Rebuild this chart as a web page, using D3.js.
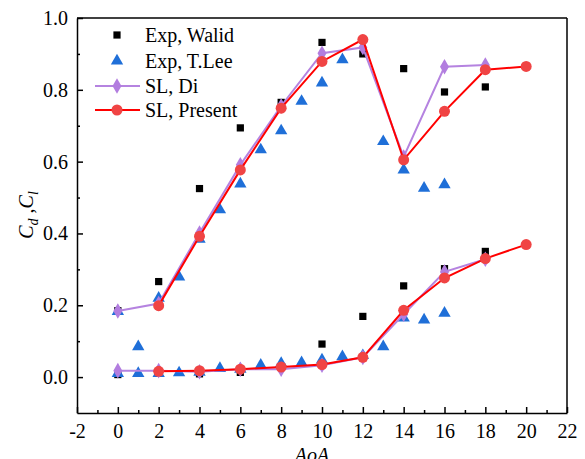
<!DOCTYPE html>
<meta charset="utf-8">
<style>
body { margin: 0; background: #fff; }
.axis path, .axis line { stroke: #000; stroke-width: 1.5px; }
.axis text { fill: #000; }
</style>
<svg width="585" height="459"></svg>
<script src="https://d3js.org/d3.v7.min.js"></script>
<script>

// lift (Cl) and drag (Cd) values
var walidLift = [[0, 0.185], [2, 0.266], [4, 0.525], [6, 0.694], [8, 0.765], [10, 0.932], [12, 0.90], [14, 0.859], [16, 0.794], [18, 0.808]];
var walidDrag = [[0, 0.007], [4, 0.009], [6, 0.013], [10, 0.092], [12, 0.169], [14, 0.254], [16, 0.302], [18, 0.35]];

var leeLift = [[0, 0.183], [1, 0.085], [2, 0.22], [3, 0.279], [4, 0.384], [5, 0.466], [6, 0.538], [7, 0.633], [8, 0.686], [9, 0.768], [10, 0.819], [11, 0.884], [13, 0.656], [14, 0.577], [15, 0.526], [16, 0.536]];
var leeDrag = [[0, 0.01], [1, 0.01], [2, 0.01], [3, 0.012], [4, 0.014], [5, 0.024], [6, 0.022], [7, 0.033], [8, 0.038], [9, 0.04], [10, 0.048], [11, 0.057], [12, 0.06], [13, 0.085], [14, 0.165], [15, 0.159], [16, 0.178]];

var diLift = [[0, 0.184], [2, 0.205], [4, 0.401], [6, 0.591], [8, 0.755], [10, 0.902], [12, 0.918], [14, 0.613], [16, 0.864], [18, 0.869]];
var diDrag = [[0, 0.018], [2, 0.018], [4, 0.015], [6, 0.022], [8, 0.022], [10, 0.033], [12, 0.055], [14, 0.175], [16, 0.293], [18, 0.328]];

var presentLift = [[2, 0.199], [4, 0.392], [6, 0.577], [8, 0.749], [10, 0.879], [12, 0.94], [14, 0.605], [16, 0.74], [18, 0.856], [20, 0.865]];
var presentDrag = [[2, 0.016], [4, 0.018], [6, 0.022], [8, 0.028], [10, 0.035], [12, 0.055], [14, 0.186], [16, 0.276], [18, 0.33], [20, 0.369]];

var xTicks = [-2, 0, 2, 4, 6, 8, 10, 12, 14, 16, 18, 20, 22];
var yTicks = [0, 0.2, 0.4, 0.6, 0.8, 1.0];

var legendNames = ["Exp, Walid", "Exp, T.Lee", "SL, Di", "SL, Present"];

var FONT = '"Liberation Serif"';

var svg = d3.select("svg"),
    margin = {top: 18, right: 18, bottom: 46, left: 77},
    width = +svg.attr("width") - margin.left - margin.right,
    height = +svg.attr("height") - margin.top - margin.bottom;

var x = d3.scaleLinear().domain([-2, 22]).range([0, width]);
var y = d3.scaleLinear().domain([-0.1, 1.0]).range([height, 0]);

var g = svg.append("g")
    .attr("transform", "translate(" + margin.left + "," + margin.top + ")");

// minor ticks
g.append("g")
    .attr("class", "axis")
    .attr("transform", "translate(0," + height + ")")
    .call(d3.axisBottom(x).tickValues(d3.range(-1, 22, 2)).tickSize(-3).tickFormat(""))
    .select(".domain").remove();
g.append("g")
    .attr("class", "axis")
    .call(d3.axisLeft(y).tickValues([0.1, 0.3, 0.5, 0.7, 0.9]).tickSize(-3).tickFormat(""))
    .select(".domain").remove();

// major axes
g.append("g")
    .attr("class", "axis")
    .attr("transform", "translate(0," + height + ")")
    .call(d3.axisBottom(x).tickValues(xTicks).tickSize(-6).tickSizeOuter(0).tickPadding(11)
      .tickFormat(function(d) { return String(d); }));
g.append("g")
    .attr("class", "axis")
    .call(d3.axisLeft(y).tickValues(yTicks).tickSize(-6).tickSizeOuter(0).tickPadding(9).tickFormat(d3.format(".1f")));

g.selectAll(".axis").attr("font-family", FONT).attr("font-size", 20);
g.selectAll(".axis text").attr("font-family", FONT);

// frame top / right
g.append("line").attr("x1", 0).attr("x2", width).attr("y1", 0).attr("y2", 0)
    .attr("stroke", "#000").attr("stroke-width", 1.5);
g.append("line").attr("x1", width).attr("x2", width).attr("y1", 0).attr("y2", height)
    .attr("stroke", "#000").attr("stroke-width", 1.5);

// axis titles
svg.append("text")
    .attr("x", 312).attr("y", 462)
    .attr("text-anchor", "middle")
    .attr("font-family", FONT).attr("font-size", 20).attr("font-style", "italic")
    .text("AoA");

var yl = svg.append("text")
    .attr("transform", "translate(33,215) rotate(-90)")
    .attr("text-anchor", "middle")
    .attr("font-family", FONT).attr("font-size", 20).attr("font-style", "italic");
yl.append("tspan").text("C");
yl.append("tspan").attr("dy", 5).attr("font-size", 14).text("d");
yl.append("tspan").attr("dy", -5).attr("font-style", "normal").text(" ,");
yl.append("tspan").text("C");
yl.append("tspan").attr("dy", 5).attr("font-size", 14).text("l");

var line = d3.line()
    .x(function(d) { return x(d[0]); })
    .y(function(d) { return y(d[1]); });

var colors = {walid: "#000000", lee: "#1f6fd8", di: "#b27ddf", diLine: "#b583e0", present: "#f04444", presentLine: "#ff0000"};

var sq = d3.symbol().type(d3.symbolSquare).size(52);
var tri = d3.symbol().type(d3.symbolTriangle).size(66);
var dia = d3.symbol().type(d3.symbolDiamond).size(70);

function points(data, sym, color, cls) {
  g.selectAll("." + cls)
    .data(data)
    .enter().append("path")
    .attr("class", cls)
    .attr("d", sym)
    .attr("fill", color)
    .attr("transform", function(d) { return "translate(" + x(d[0]) + "," + y(d[1]) + ")"; });
}

// experiments
points(walidLift, sq, colors.walid, "wl");
points(walidDrag, sq, colors.walid, "wd");
points(leeLift, tri, colors.lee, "ll");
points(leeDrag, tri, colors.lee, "ld");

// Di
[diLift, diDrag].forEach(function(s) {
  g.append("path").datum(s).attr("d", line)
    .attr("fill", "none").attr("stroke", colors.diLine).attr("stroke-width", 2);
});
points(diLift, dia, colors.di, "dl");
points(diDrag, dia, colors.di, "dd");

// Present
[presentLift, presentDrag].forEach(function(s) {
  g.append("path").datum(s).attr("d", line)
    .attr("fill", "none").attr("stroke", colors.presentLine).attr("stroke-width", 2);
});
[presentLift, presentDrag].forEach(function(s, i) {
  g.selectAll(".pc" + i)
    .data(s)
    .enter().append("circle")
    .attr("class", "pc" + i)
    .attr("cx", function(d) { return x(d[0]); })
    .attr("cy", function(d) { return y(d[1]); })
    .attr("r", 5.5)
    .attr("fill", colors.present);
});

// legend
var legend = svg.append("g");
var rowsY = [35, 61, 86, 110];
legendNames.forEach(function(name, i) {
  var row = legend.append("g").attr("transform", "translate(0," + rowsY[i] + ")");
  if (i === 2 || i === 3) {
    row.append("line").attr("x1", 95).attr("x2", 140).attr("y1", 0).attr("y2", 0)
      .attr("stroke", i === 2 ? colors.diLine : colors.presentLine).attr("stroke-width", 2);
  }
  if (i === 0) row.append("path").attr("d", sq).attr("fill", colors.walid).attr("transform", "translate(117,0)");
  if (i === 1) row.append("path").attr("d", tri).attr("fill", colors.lee).attr("transform", "translate(117,0)");
  if (i === 2) row.append("path").attr("d", dia).attr("fill", colors.di).attr("transform", "translate(117,0)");
  if (i === 3) row.append("circle").attr("cx", 117).attr("cy", 0).attr("r", 5.5).attr("fill", colors.present);
  row.append("text").attr("x", 145).attr("y", 7)
    .attr("font-family", FONT).attr("font-size", 20).text(name);
});
</script>
